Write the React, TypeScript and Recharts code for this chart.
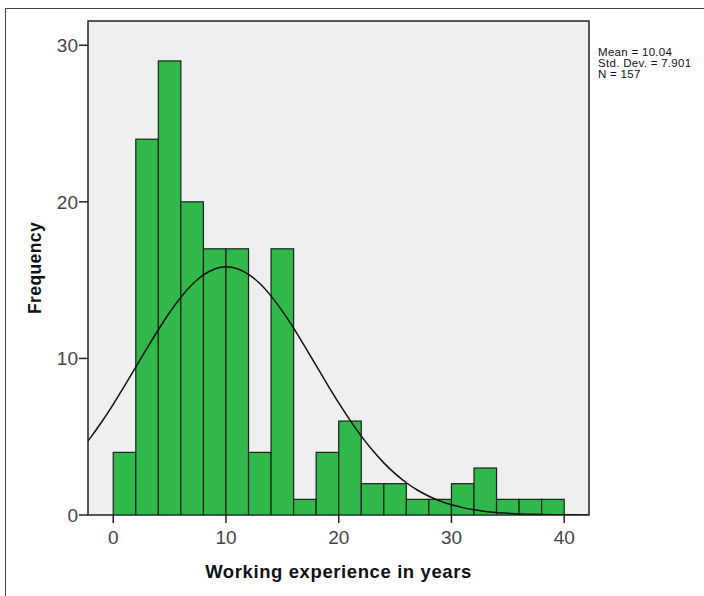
import React from 'react';
import { ComposedChart, Bar, Line, XAxis, YAxis, ReferenceArea, Label } from 'recharts';

// histogram bins (2 years wide), centre of each bin
const binCentres = [1, 3, 5, 7, 9, 11, 13, 15, 17, 19, 21, 23, 25, 27, 29, 31, 33, 35, 37, 39];
const binCounts = [4, 24, 29, 20, 17, 17, 4, 17, 1, 4, 6, 2, 2, 1, 1, 2, 3, 1, 1, 1];

// normal curve
const curveX = [-3, -2, -1, 0, 1, 2, 3, 4, 5, 6, 7, 8, 9, 10, 11, 12, 13, 14, 15, 16, 17, 18, 19, 20, 21, 22, 23, 24, 25, 26, 27, 28, 29, 30, 31, 32, 33, 34, 35, 36, 37, 38, 39, 40, 41, 42, 43];
const curveY = [4.06, 4.96, 5.97, 7.07, 8.24, 9.45, 10.66, 11.83, 12.93, 13.91, 14.72, 15.33, 15.71, 15.85, 15.73, 15.37, 14.78, 13.98, 13.02, 11.93, 10.75, 9.54, 8.33, 7.16, 6.06, 5.04, 4.13, 3.33, 2.64, 2.06, 1.58, 1.2, 0.89, 0.65, 0.47, 0.33, 0.23, 0.16, 0.11, 0.07, 0.05, 0.03, 0.02, 0.01, 0.01, 0.0, 0.0];

const xTicks = [0, 10, 20, 30, 40];
const yTicks = [0, 10, 20, 30];
const xDomain: [number, number] = [-2.24, 42.2];
const yDomain: [number, number] = [0, 31.55];

const statLines = ['Mean = 10.04', 'Std. Dev. = 7.901', 'N = 157'];

const bins = binCentres.map((x, i) => ({ x, count: binCounts[i] }));
const curve = curveX.map((x, i) => ({ x, y: curveY[i] }));

const FONT = '"Liberation Sans", Arial, sans-serif';
const W = 704;
const H = 596;
const margin = { top: 21, right: 115, left: 38, bottom: 21 };
const plotWidth = W - margin.left - 50 - margin.right;
const barWidth = (plotWidth / (xDomain[1] - xDomain[0])) * 2;

const tickStyle = { fontSize: 19, fill: '#444', fontFamily: FONT };
const titleStyle = { fontSize: 18.5, fontWeight: 'bold', fill: '#111', fontFamily: FONT, letterSpacing: 0.6 };

// full-width bin rectangle, centred on the bin's x
const BinShape = (p: any) => {
    if (!p.height) return null;
    const cx = p.x + p.width / 2;
    return (
        <rect
            x={cx - barWidth / 2}
            y={p.y}
            width={barWidth}
            height={p.height}
            fill="#31b84a"
            stroke="#1a221a"
            strokeWidth={1.2}
        />
    );
};

const App = () => {
    return (
        <div style={{ position: 'relative', width: W, height: H, overflow: 'hidden', background: '#fff' }}>
            <style>{'body{margin:0}'}</style>
            <div style={{ position: 'absolute', left: 5, top: 8, width: W, height: H, border: '1.5px solid #444' }} />
            <div style={{ position: 'absolute', left: 598, top: 47, fontFamily: FONT, fontSize: 11.5, lineHeight: '11px', letterSpacing: 0.3, color: '#111' }}>
                {statLines.map((s) => <div key={s}>{s}</div>)}
            </div>
            <div style={{ position: 'absolute', left: 0, top: 0 }}>
                <ComposedChart width={W} height={H} margin={margin} data={bins}>
                    <XAxis
                        dataKey="x"
                        type="number"
                        domain={xDomain}
                        allowDataOverflow
                        ticks={xTicks}
                        height={60}
                        axisLine={false}
                        tickSize={8}
                        tickMargin={8}
                        tickLine={{ stroke: '#222', strokeWidth: 1.5 }}
                        tick={tickStyle}
                    >
                        <Label
                            value="Working experience in years"
                            position="insideBottom"
                            offset={-3}
                            style={titleStyle}
                        />
                    </XAxis>
                    <YAxis
                        type="number"
                        domain={yDomain}
                        allowDataOverflow
                        ticks={yTicks}
                        width={50}
                        axisLine={false}
                        tickSize={9}
                        tickMargin={1}
                        tickLine={{ stroke: '#222', strokeWidth: 1.5 }}
                        tick={tickStyle}
                    >
                        <Label
                            content={({ viewBox }: any) => {
                                const cx = viewBox.x - 3;
                                const cy = viewBox.y + viewBox.height / 2;
                                return (
                                    <text
                                        x={cx}
                                        y={cy}
                                        transform={`rotate(-90 ${cx} ${cy})`}
                                        textAnchor="middle"
                                        dominantBaseline="central"
                                        style={{ ...titleStyle, fontSize: 17.5, letterSpacing: 0.4 }}
                                    >
                                        Frequency
                                    </text>
                                );
                            }}
                        />
                    </YAxis>
                    <ReferenceArea
                        x1={xDomain[0]}
                        x2={xDomain[1]}
                        y1={yDomain[0]}
                        y2={yDomain[1]}
                        fill="#efefef"
                        fillOpacity={1}
                        stroke="#222"
                        strokeWidth={1.5}
                        ifOverflow="visible"
                    />
                    <Bar
                        dataKey="count"
                        fill="#31b84a"
                        shape={BinShape}
                        isAnimationActive={false}
                    />
                    <Line
                        data={curve}
                        dataKey="y"
                        type="monotone"
                        stroke="#111"
                        strokeWidth={1.5}
                        dot={false}
                        activeDot={false}
                        isAnimationActive={false}
                    />
                </ComposedChart>
            </div>
        </div>
    );
};

export default App;
